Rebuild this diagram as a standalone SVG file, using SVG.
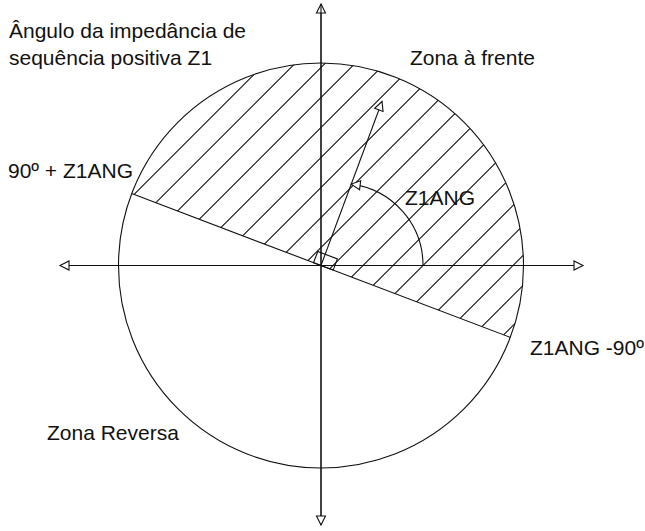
<svg xmlns="http://www.w3.org/2000/svg" width="645" height="531" viewBox="0 0 645 531">
<style>
.ln{fill:none;stroke:#111;stroke-width:1.1}
.hatch{stroke:#111;stroke-width:1.1}
.t{font-family:"Liberation Sans",Arial,sans-serif;font-size:21px;fill:#111}
</style>
<defs>
<marker id="ah" markerUnits="userSpaceOnUse" markerWidth="14" markerHeight="14" viewBox="-12 -7 14 14" refX="0" refY="0" orient="auto">
<path d="M0,0 L-9,-4.5 L-9,4.5 Z" fill="#fff" stroke="#111" stroke-width="1.1"/>
</marker>
<clipPath id="zone">
<path d="M131.7,193.6 A202.5,202.5 0 0 1 392.9,76.2 A202.5,202.5 0 0 1 510.3,337.4 Z"/>
</clipPath>
</defs>
<rect width="645" height="531" fill="#fff"/>
<g id="hatching" clip-path="url(#zone)">
<path class="hatch" d="M-371.5,700 L328.5,0 M-341.5,700 L358.5,0 M-311.5,700 L388.5,0 M-281.5,700 L418.5,0 M-251.5,700 L448.5,0 M-221.5,700 L478.5,0 M-191.5,700 L508.5,0 M-161.5,700 L538.5,0 M-131.5,700 L568.5,0 M-101.5,700 L598.5,0 M-71.5,700 L628.5,0 M-41.5,700 L658.5,0 M-11.5,700 L688.5,0 M18.5,700 L718.5,0 M48.5,700 L748.5,0 M78.5,700 L778.5,0 M108.5,700 L808.5,0 M138.5,700 L838.5,0 M168.5,700 L868.5,0"/>
</g>
<g id="circle"><circle class="ln" cx="321" cy="265.5" r="202.5"/></g>
<g id="connectors">
<line class="ln" x1="321" y1="525" x2="321" y2="4" marker-end="url(#ah)"/>
<line class="ln" x1="321" y1="4" x2="321" y2="525" marker-end="url(#ah)"/>
<line class="ln" x1="321" y1="265.5" x2="583" y2="265.5" marker-end="url(#ah)"/>
<line class="ln" x1="321" y1="265.5" x2="60" y2="265.5" marker-end="url(#ah)"/>
<line class="ln" x1="131.7" y1="193.6" x2="510.3" y2="337.4"/>
<line class="ln" x1="321" y1="265.5" x2="382" y2="101.5" marker-end="url(#ah)"/>
<path class="ln" d="M423,265.5 A82,82 0 0 0 351.2,184.1" marker-end="url(#ah)"/>
<polygon class="ln" points="313.5,262.7 333.2,270.1 337.4,258.9 317.8,251.5"/>
</g>
<g id="labels">
<text class="t" x="9" y="38">Ângulo da impedância de</text>
<text class="t" x="9" y="65">sequência positiva Z1</text>
<text class="t" x="410" y="65">Zona à frente</text>
<text class="t" x="8" y="178">90º + Z1ANG</text>
<text class="t" x="405" y="205">Z1ANG</text>
<text class="t" x="530" y="355">Z1ANG -90º</text>
<text class="t" x="47" y="440">Zona Reversa</text>
</g>
</svg>
